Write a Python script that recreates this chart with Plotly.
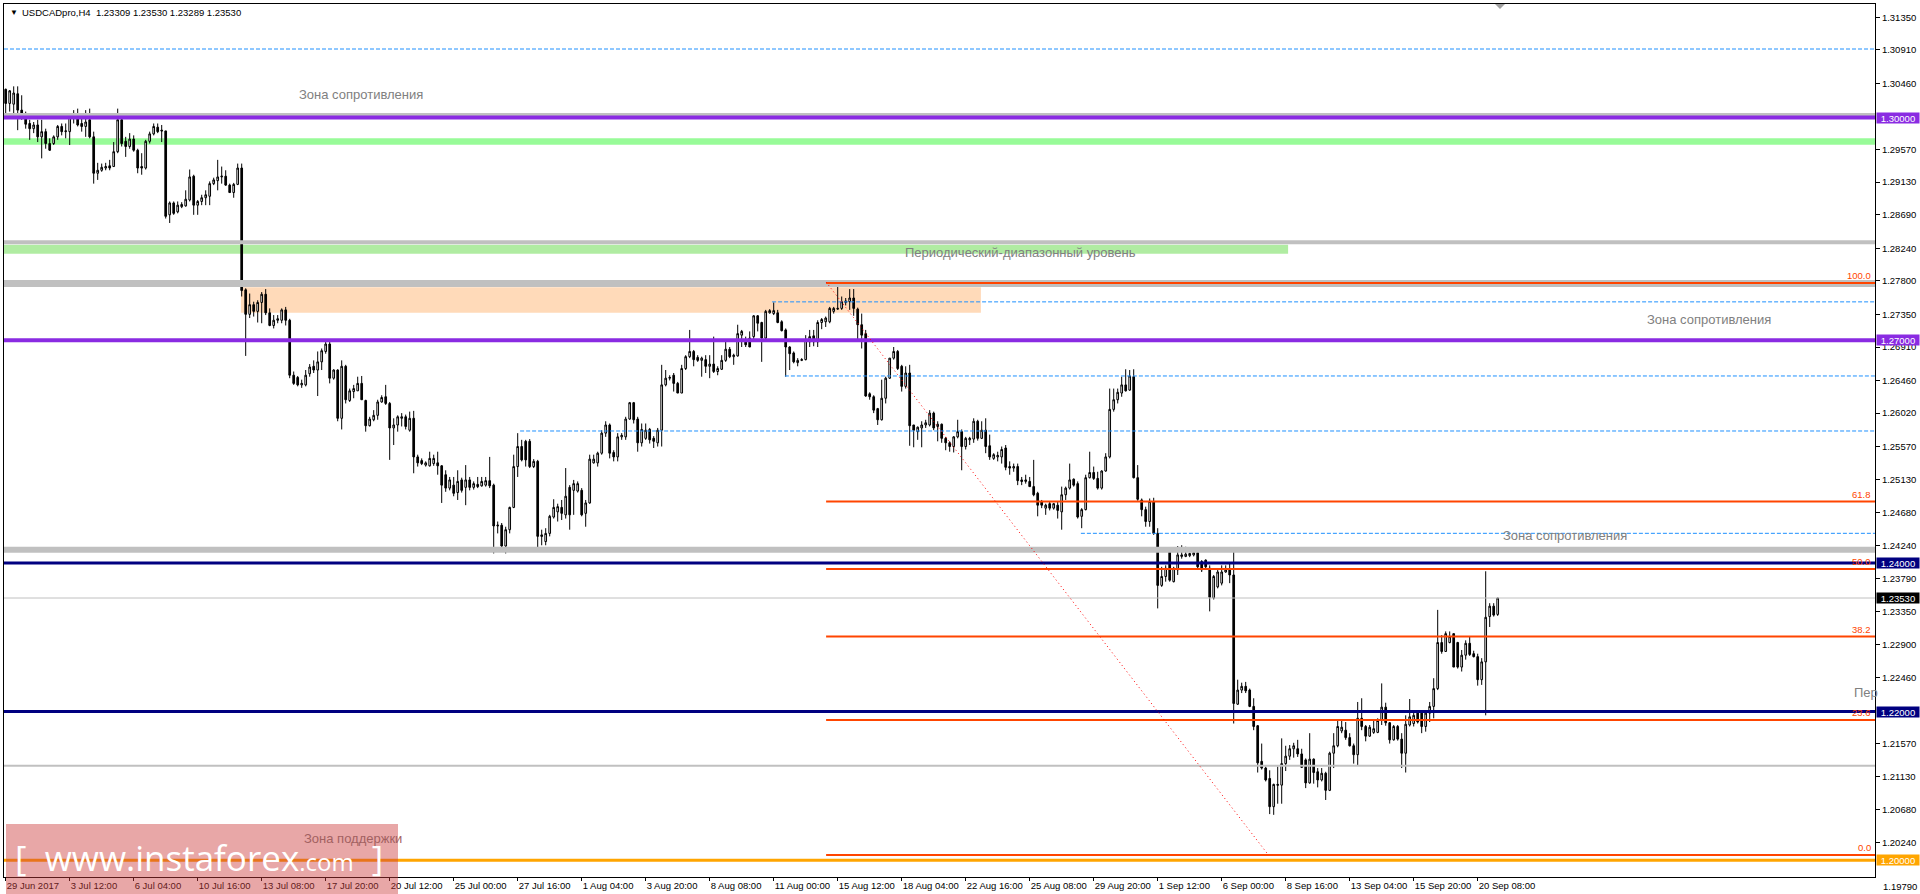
import plotly.graph_objects as go

# ---------------- DATA ----------------
symbol_header = "USDCADpro,H4  1.23309 1.23530 1.23289 1.23530"

opens = [
 1.3038,1.3019,1.3018,1.3032,1.3010,1.3003,1.2992,1.2985,1.2990,1.2974,
 1.2981,1.2965,1.2965,1.2974,1.2988,1.2981,1.2981,1.3001,1.3004,1.2992,
 1.2988,1.2997,1.2974,1.2925,1.2929,1.2932,1.2935,1.2934,1.2954,1.2997,
 1.2968,1.2961,1.2971,1.2956,1.2934,1.2932,1.2968,1.2978,1.2987,1.2983,
 1.2982,1.2869,1.2885,1.2873,1.2880,1.2881,1.2889,1.2921,1.2882,1.2887,
 1.2892,1.2894,1.2911,1.2915,1.2920,1.2921,1.2909,1.2899,1.2910,1.2932,
 1.2768,1.2735,1.2748,1.2739,1.2751,1.2762,1.2737,1.2720,1.2727,1.2727,
 1.2741,1.2727,1.2653,1.2650,1.2640,1.2640,1.2655,1.2665,1.2660,1.2671,
 1.2685,1.2695,1.2649,1.2660,1.2595,1.2665,1.2619,1.2631,1.2632,1.2642,
 1.2619,1.2585,1.2593,1.2599,1.2617,1.2624,1.2615,1.2582,1.2586,1.2595,
 1.2597,1.2579,1.2595,1.2543,1.2538,1.2532,1.2531,1.2534,1.2535,1.2531,
 1.2519,1.2501,1.2505,1.2495,1.2512,1.2502,1.2512,1.2502,1.2506,1.2504,
 1.2505,1.2511,1.2505,1.2450,1.2451,1.2423,1.2445,1.2475,1.2530,1.2557,
 1.2564,1.2564,1.2530,1.2537,1.2438,1.2429,1.2440,1.2462,1.2469,1.2475,
 1.2465,1.2502,1.2498,1.2497,1.2498,1.2467,1.2481,1.2535,1.2535,1.2548,
 1.2575,1.2586,1.2549,1.2543,1.2570,1.2570,1.2594,1.2616,1.2594,1.2562,
 1.2568,1.2580,1.2568,1.2562,1.2579,1.2640,1.2649,1.2653,1.2642,1.2629,
 1.2662,1.2678,1.2685,1.2677,1.2673,1.2674,1.2665,1.2668,1.2658,1.2661,
 1.2673,1.2688,1.2678,1.2679,1.2707,1.2700,1.2703,1.2705,1.2733,1.2724,
 1.2703,1.2737,1.2736,1.2737,1.2725,1.2714,1.2691,1.2683,1.2670,1.2673,
 1.2674,1.2698,1.2706,1.2698,1.2724,1.2725,1.2725,1.2739,1.2742,1.2743,
 1.2751,1.2752,1.2757,1.2742,1.2721,1.2709,1.2628,1.2624,1.2608,1.2593,
 1.2622,1.2649,1.2676,1.2685,1.2665,1.2638,1.2656,1.2586,1.2577,1.2582,
 1.2586,1.2586,1.2602,1.2584,1.2587,1.2568,1.2562,1.2557,1.2570,1.2577,
 1.2557,1.2566,1.2567,1.2591,1.2568,1.2579,1.2558,1.2541,1.2543,1.2543,
 1.2555,1.2530,1.2528,1.2530,1.2512,1.2510,1.2510,1.2503,1.2494,1.2483,
 1.2474,1.2480,1.2474,1.2478,1.2469,1.2492,1.2501,1.2513,1.2507,1.2463,
 1.2472,1.2515,1.2522,1.2514,1.2501,1.2524,1.2543,1.2607,1.2620,1.2629,
 1.2640,1.2633,1.2651,1.2515,1.2485,1.2472,1.2456,1.2483,1.2440,1.2370,
 1.2382,1.2419,1.2375,1.2391,1.2409,1.2409,1.2410,1.2411,1.2414,1.2402,
 1.2404,1.2393,1.2353,1.2368,1.2373,1.2388,1.2391,1.2384,1.2210,1.2229,
 1.2234,1.2229,1.2207,1.2181,1.2133,1.2124,1.2110,1.2072,1.2102,1.2101,
 1.2130,1.2140,1.2150,1.2150,1.2143,1.2135,1.2104,1.2136,1.2119,1.2108,
 1.2117,1.2094,1.2144,1.2154,1.2174,1.2175,1.2165,1.2154,1.2142,1.2191,
 1.2180,1.2167,1.2172,1.2172,1.2188,1.2206,1.2185,1.2162,1.2180,1.2163,
 1.2144,1.2182,1.2184,1.2198,1.2198,1.2180,1.2198,1.2207,1.2231,1.2293,
 1.2281,1.2293,1.2305,1.2293,1.2260,1.2276,1.2292,1.2278,1.2274,1.2243,
 1.2267,1.2328,1.2342,1.23309]

highs = [
 1.3039,1.3037,1.3042,1.3042,1.3030,1.3008,1.2997,1.2994,1.2997,1.2997,
 1.2985,1.2972,1.2976,1.2990,1.2992,1.2992,1.3006,1.3010,1.3012,1.3001,
 1.3010,1.3012,1.2981,1.2939,1.2938,1.2939,1.2943,1.2967,1.3012,1.3001,
 1.2974,1.2979,1.2976,1.2958,1.2952,1.2970,1.2981,1.2992,1.2992,1.2990,
 1.2982,1.2887,1.2887,1.2887,1.2886,1.2902,1.2930,1.2923,1.2889,1.2896,
 1.2902,1.2914,1.2919,1.2943,1.2934,1.2929,1.2911,1.2912,1.2938,1.2938,
 1.2770,1.2763,1.2752,1.2754,1.2765,1.2769,1.2743,1.2734,1.2734,1.2743,
 1.2745,1.2729,1.2658,1.2652,1.2647,1.2660,1.2668,1.2673,1.2685,1.2689,
 1.2698,1.2698,1.2661,1.2661,1.2673,1.2667,1.2635,1.2640,1.2651,1.2652,
 1.2620,1.2597,1.2606,1.2620,1.2626,1.2640,1.2617,1.2595,1.2599,1.2602,
 1.2600,1.2604,1.2605,1.2546,1.2541,1.2537,1.2550,1.2546,1.2550,1.2532,
 1.2525,1.2516,1.2516,1.2525,1.2515,1.2532,1.2516,1.2510,1.2516,1.2516,
 1.2516,1.2543,1.2507,1.2456,1.2454,1.2449,1.2476,1.2546,1.2575,1.2566,
 1.2566,1.2567,1.2540,1.2539,1.2445,1.2447,1.2465,1.2486,1.2480,1.2485,
 1.2528,1.2505,1.2512,1.2510,1.2501,1.2485,1.2546,1.2546,1.2550,1.2579,
 1.2591,1.2588,1.2552,1.2575,1.2575,1.2597,1.2617,1.2617,1.2597,1.2588,
 1.2588,1.2582,1.2571,1.2582,1.2667,1.2660,1.2653,1.2656,1.2644,1.2667,
 1.2680,1.2714,1.2687,1.2680,1.2678,1.2680,1.2680,1.2705,1.2665,1.2680,
 1.2698,1.2691,1.2682,1.2721,1.2714,1.2705,1.2712,1.2734,1.2734,1.2725,
 1.2741,1.2742,1.2751,1.2741,1.2727,1.2716,1.2692,1.2685,1.2676,1.2676,
 1.2707,1.2714,1.2714,1.2727,1.2730,1.2732,1.2745,1.2745,1.2777,1.2759,
 1.2757,1.2769,1.2769,1.2744,1.2736,1.2714,1.2630,1.2626,1.2609,1.2647,
 1.2651,1.2676,1.2691,1.2687,1.2667,1.2665,1.2667,1.2586,1.2584,1.2591,
 1.2593,1.2606,1.2604,1.2591,1.2588,1.2570,1.2564,1.2571,1.2593,1.2580,
 1.2570,1.2570,1.2595,1.2593,1.2591,1.2595,1.2573,1.2548,1.2550,1.2557,
 1.2559,1.2537,1.2534,1.2534,1.2516,1.2519,1.2516,1.2539,1.2496,1.2485,
 1.2480,1.2483,1.2481,1.2483,1.2503,1.2503,1.2534,1.2514,1.2510,1.2474,
 1.2519,1.2550,1.2530,1.2523,1.2525,1.2548,1.2635,1.2635,1.2635,1.2651,
 1.2661,1.2660,1.2661,1.2532,1.2487,1.2476,1.2487,1.2488,1.2447,1.2395,
 1.2397,1.2419,1.2395,1.2423,1.2424,1.2422,1.2414,1.2415,1.2415,1.2404,
 1.2405,1.2397,1.2384,1.2391,1.2397,1.2397,1.2400,1.2415,1.2243,1.2239,
 1.2240,1.2231,1.2218,1.2182,1.2157,1.2126,1.2121,1.2103,1.2126,1.2164,
 1.2154,1.2155,1.2158,1.2162,1.2150,1.2137,1.2171,1.2137,1.2124,1.2124,
 1.2119,1.2146,1.2171,1.2189,1.2189,1.2186,1.2171,1.2157,1.2213,1.2218,
 1.2182,1.2182,1.2189,1.2191,1.2238,1.2212,1.2186,1.2182,1.2182,1.2171,
 1.2195,1.2217,1.2202,1.2202,1.2202,1.2202,1.2213,1.2245,1.2337,1.2303,
 1.2308,1.2308,1.2305,1.2294,1.2283,1.2296,1.2301,1.2282,1.2278,1.2272,
 1.2389,1.2346,1.2346,1.23530]

lows = [
 1.3006,1.3008,1.3006,1.2983,1.2997,1.2985,1.2970,1.2979,1.2967,1.2945,
 1.2958,1.2955,1.2963,1.2970,1.2976,1.2972,1.2963,1.2992,1.2988,1.2981,
 1.2974,1.2972,1.2911,1.2916,1.2927,1.2929,1.2929,1.2934,1.2952,1.2961,
 1.2947,1.2958,1.2954,1.2925,1.2923,1.2930,1.2965,1.2976,1.2979,1.2967,
 1.2864,1.2858,1.2869,1.2871,1.2878,1.2880,1.2887,1.2869,1.2869,1.2882,
 1.2882,1.2882,1.2909,1.2902,1.2911,1.2908,1.2899,1.2892,1.2909,1.2759,
 1.2679,1.2730,1.2732,1.2724,1.2723,1.2734,1.2719,1.2716,1.2723,1.2723,
 1.2720,1.2649,1.2640,1.2638,1.2636,1.2638,1.2651,1.2656,1.2625,1.2660,
 1.2682,1.2642,1.2647,1.2591,1.2580,1.2615,1.2617,1.2622,1.2632,1.2620,
 1.2577,1.2584,1.2591,1.2593,1.2616,1.2613,1.2539,1.2559,1.2577,1.2584,
 1.2580,1.2577,1.2521,1.2530,1.2532,1.2530,1.2530,1.2531,1.2519,1.2481,
 1.2496,1.2498,1.2490,1.2485,1.2495,1.2478,1.2498,1.2499,1.2501,1.2503,
 1.2503,1.2501,1.2413,1.2440,1.2418,1.2413,1.2440,1.2474,1.2516,1.2537,
 1.2530,1.2528,1.2528,1.2418,1.2424,1.2424,1.2436,1.2460,1.2456,1.2458,
 1.2460,1.2445,1.2465,1.2495,1.2463,1.2449,1.2480,1.2534,1.2530,1.2546,
 1.2570,1.2541,1.2537,1.2537,1.2566,1.2566,1.2593,1.2588,1.2550,1.2557,
 1.2566,1.2561,1.2555,1.2557,1.2557,1.2638,1.2646,1.2631,1.2629,1.2629,
 1.2660,1.2676,1.2665,1.2671,1.2651,1.2656,1.2649,1.2656,1.2653,1.2660,
 1.2671,1.2676,1.2667,1.2678,1.2691,1.2691,1.2691,1.2700,1.2712,1.2671,
 1.2700,1.2736,1.2734,1.2723,1.2712,1.2651,1.2660,1.2669,1.2665,1.2672,
 1.2673,1.2691,1.2692,1.2691,1.2715,1.2718,1.2723,1.2736,1.2741,1.2741,
 1.2747,1.2741,1.2733,1.2700,1.2689,1.2624,1.2620,1.2602,1.2586,1.2592,
 1.2615,1.2648,1.2674,1.2660,1.2631,1.2635,1.2558,1.2556,1.2566,1.2556,
 1.2582,1.2584,1.2579,1.2564,1.2562,1.2552,1.2550,1.2549,1.2568,1.2525,
 1.2553,1.2559,1.2562,1.2565,1.2567,1.2548,1.2539,1.2539,1.2537,1.2534,
 1.2525,1.2519,1.2523,1.2505,1.2505,1.2507,1.2503,1.2490,1.2463,1.2474,
 1.2465,1.2471,1.2472,1.2460,1.2445,1.2485,1.2499,1.2503,1.2460,1.2447,
 1.2471,1.2514,1.2512,1.2499,1.2499,1.2523,1.2541,1.2604,1.2615,1.2624,
 1.2631,1.2632,1.2514,1.2484,1.2463,1.2449,1.2449,1.2438,1.2339,1.2368,
 1.2375,1.2375,1.2374,1.2384,1.2406,1.2408,1.2408,1.2409,1.2391,1.2388,
 1.2391,1.2335,1.2351,1.2366,1.2370,1.2387,1.2373,1.2184,1.2209,1.2225,
 1.2225,1.2206,1.2175,1.2118,1.2122,1.2106,1.2062,1.2061,1.2076,1.2076,
 1.2120,1.2135,1.2138,1.2139,1.2124,1.2097,1.2103,1.2103,1.2098,1.2106,
 1.2081,1.2093,1.2124,1.2152,1.2171,1.2162,1.2153,1.2130,1.2128,1.2175,
 1.2160,1.2166,1.2170,1.2171,1.2182,1.2181,1.2157,1.2161,1.2161,1.2124,
 1.2118,1.2180,1.2180,1.2184,1.2171,1.2173,1.2186,1.2191,1.2229,1.2278,
 1.2281,1.2292,1.2260,1.2258,1.2254,1.2270,1.2275,1.2273,1.2235,1.2236,
 1.2195,1.2314,1.2328,1.23289]

closes = [
 1.3019,1.3036,1.3033,1.3010,1.3003,1.2991,1.2985,1.2990,1.2974,1.2981,
 1.2965,1.2956,1.2974,1.2988,1.2981,1.2982,1.3001,1.3004,1.2990,1.2988,
 1.2994,1.2974,1.2925,1.2929,1.2933,1.2934,1.2932,1.2954,1.2997,1.2965,
 1.2961,1.2971,1.2956,1.2932,1.2932,1.2968,1.2978,1.2988,1.2981,1.2982,
 1.2867,1.2885,1.2871,1.2882,1.2883,1.2890,1.2920,1.2882,1.2887,1.2892,
 1.2896,1.2911,1.2916,1.2920,1.2921,1.2909,1.2899,1.2910,1.2932,1.2767,
 1.2735,1.2748,1.2739,1.2751,1.2762,1.2737,1.2720,1.2727,1.2729,1.2741,
 1.2727,1.2653,1.2642,1.2640,1.2642,1.2653,1.2664,1.2660,1.2671,1.2686,
 1.2695,1.2649,1.2660,1.2595,1.2665,1.2620,1.2632,1.2635,1.2642,1.2620,
 1.2585,1.2594,1.2599,1.2617,1.2623,1.2615,1.2582,1.2586,1.2597,1.2597,
 1.2584,1.2595,1.2543,1.2535,1.2534,1.2535,1.2541,1.2541,1.2531,1.2505,
 1.2501,1.2512,1.2494,1.2510,1.2498,1.2512,1.2502,1.2507,1.2503,1.2510,
 1.2511,1.2504,1.2450,1.2451,1.2423,1.2445,1.2475,1.2530,1.2557,1.2539,
 1.2539,1.2530,1.2537,1.2436,1.2436,1.2440,1.2463,1.2475,1.2476,1.2467,
 1.2490,1.2465,1.2507,1.2507,1.2465,1.2481,1.2540,1.2540,1.2548,1.2575,
 1.2586,1.2548,1.2543,1.2570,1.2572,1.2594,1.2616,1.2593,1.2562,1.2580,
 1.2579,1.2566,1.2564,1.2579,1.2640,1.2649,1.2650,1.2642,1.2629,1.2662,
 1.2678,1.2685,1.2674,1.2673,1.2676,1.2665,1.2668,1.2658,1.2662,1.2673,
 1.2688,1.2678,1.2680,1.2709,1.2712,1.2694,1.2691,1.2733,1.2723,1.2703,
 1.2739,1.2740,1.2740,1.2724,1.2713,1.2691,1.2682,1.2671,1.2673,1.2674,
 1.2700,1.2705,1.2698,1.2724,1.2728,1.2730,1.2743,1.2743,1.2743,1.2752,
 1.2753,1.2757,1.2743,1.2721,1.2707,1.2625,1.2624,1.2606,1.2593,1.2622,
 1.2649,1.2676,1.2685,1.2662,1.2638,1.2656,1.2585,1.2579,1.2583,1.2586,
 1.2589,1.2602,1.2582,1.2587,1.2568,1.2562,1.2557,1.2570,1.2577,1.2557,
 1.2568,1.2568,1.2591,1.2568,1.2579,1.2557,1.2543,1.2546,1.2545,1.2553,
 1.2529,1.2528,1.2530,1.2511,1.2510,1.2512,1.2503,1.2492,1.2478,1.2478,
 1.2478,1.2474,1.2480,1.2471,1.2492,1.2501,1.2512,1.2505,1.2462,1.2472,
 1.2515,1.2522,1.2514,1.2501,1.2524,1.2543,1.2607,1.2620,1.2630,1.2640,
 1.2632,1.2652,1.2515,1.2486,1.2472,1.2456,1.2483,1.2440,1.2370,1.2382,
 1.2393,1.2377,1.2393,1.2411,1.2411,1.2412,1.2413,1.2414,1.2395,1.2391,
 1.2395,1.2354,1.2382,1.2388,1.2388,1.2391,1.2384,1.2211,1.2229,1.2234,
 1.2228,1.2207,1.2180,1.2131,1.2124,1.2108,1.2072,1.2102,1.2101,1.2130,
 1.2140,1.2150,1.2154,1.2143,1.2125,1.2104,1.2136,1.2118,1.2108,1.2117,
 1.2094,1.2144,1.2154,1.2180,1.2179,1.2165,1.2154,1.2142,1.2191,1.2180,
 1.2167,1.2179,1.2177,1.2188,1.2206,1.2185,1.2162,1.2180,1.2163,1.2144,
 1.2183,1.2193,1.2195,1.2186,1.2180,1.2198,1.2207,1.2231,1.2293,1.2281,
 1.2305,1.2301,1.2260,1.2260,1.2276,1.2292,1.2277,1.2274,1.2243,1.2267,
 1.2327,1.2342,1.2330,1.23530]

# x-axis date labels, one every 16 bars
date_labels = ["29 Jun 2017", "3 Jul 12:00", "6 Jul 04:00", "10 Jul 16:00", "13 Jul 08:00",
               "17 Jul 20:00", "20 Jul 12:00", "25 Jul 00:00", "27 Jul 16:00", "1 Aug 04:00",
               "3 Aug 20:00", "8 Aug 08:00", "11 Aug 00:00", "15 Aug 12:00", "18 Aug 04:00",
               "22 Aug 16:00", "25 Aug 08:00", "29 Aug 20:00", "1 Sep 12:00", "6 Sep 00:00",
               "8 Sep 16:00", "13 Sep 04:00", "15 Sep 20:00", "20 Sep 08:00"]
label_step = 16

# price-axis tick values
price_ticks = [1.31350, 1.30910, 1.30460, 1.29570, 1.29130, 1.28690, 1.28240, 1.27800,
               1.27350, 1.26910, 1.26460, 1.26020, 1.25570, 1.25130, 1.24680, 1.24240,
               1.23790, 1.23350, 1.22900, 1.22460, 1.21570, 1.21130, 1.20680, 1.20240]

# horizontal key levels (price, colour)
key_levels = [1.30000, 1.27000, 1.24000, 1.22000, 1.20000]
key_colors = ["#8A2BE2", "#8A2BE2", "#000080", "#000080", "#FFA500"]
last_price = 1.23530

# grey support/resistance bands (price, thickness px)
grey_levels = [1.30040, 1.28320, 1.27765, 1.24179, 1.21272]
grey_widths = [3, 4, 7, 6, 2]

# blue dotted levels (price, starting bar)
dash_levels = [1.30923, 1.27518, 1.26520, 1.25779, 1.24401]
dash_starts = [None, 191.6, 194.8, 128.6, 268.8]

# Fibonacci retracement
fib_high = 1.27772
fib_low = 1.20069
fib_ratios = [100.0, 61.8, 50.0, 38.2, 23.6, 0.0]
fib_start_bar = 205.1
trend_start = (205.1, 1.27785)
trend_end = (315.3, 1.20096)

# zones
green_zone_1 = (1.29632, 1.29722)
green_zone_2 = (1.28167, 1.28288, 320.6)   # low, high, end bar
peach_zone = (58.8, 243.8, 1.27372, 1.27714)

zone_texts = [("Зона сопротивления", 88.8, 1.30317),
              ("Зона сопротивления", 425.8, 1.27274),
              ("Зона сопротивления", 389.8, 1.24378),
              ("Периодический-диапазонный уровень", 253.8, 1.28180)]
support_text = ("Зона поддержки", 86.9, 1.20288)

# ---------------- LAYOUT GEOMETRY ----------------
W, H = 1920, 894
PL, PR, PT, PB = 4, 1875, 4, 877
n = len(closes)
x_rng = [-0.425, -0.425 + (PR - PL) / 4.0]
y_rng = [1.19773, 1.31529]
FONT = "Liberation Sans, Arial, sans-serif"


def pxx(px):
    return (px - PL) / (PR - PL)


def pxy(py):
    return (PB - py) / (PB - PT)


fig = go.Figure()
fig.add_trace(go.Candlestick(
    x=list(range(n)), open=opens, high=highs, low=lows, close=closes,
    increasing=dict(line=dict(color="black", width=1), fillcolor="white"),
    decreasing=dict(line=dict(color="black", width=1), fillcolor="black"),
    whiskerwidth=0, hoverinfo="skip", showlegend=False))

shapes = []
# background rectangles
shapes.append(dict(type="rect", xref="paper", yref="y", x0=0, x1=1,
                   y0=green_zone_1[0], y1=green_zone_1[1],
                   fillcolor="#98FB98", line=dict(width=0), layer="below"))
shapes.append(dict(type="rect", xref="x", yref="y", x0=x_rng[0], x1=green_zone_2[2],
                   y0=green_zone_2[0], y1=green_zone_2[1],
                   fillcolor="#B0ECA2", line=dict(width=0), layer="below"))
shapes.append(dict(type="rect", xref="x", yref="y", x0=peach_zone[0], x1=peach_zone[1],
                   y0=peach_zone[2], y1=peach_zone[3],
                   fillcolor="#FFDAB9", line=dict(width=0), layer="below"))

# grey bands
for lv, wd in zip(grey_levels, grey_widths):
    shapes.append(dict(type="line", xref="paper", yref="y", x0=0, x1=1, y0=lv, y1=lv,
                       line=dict(color="#C0C0C0", width=wd), layer="above"))
# blue dashed levels
for lv, st in zip(dash_levels, dash_starts):
    shapes.append(dict(type="line", xref="x", yref="y",
                       x0=x_rng[0] if st is None else st, x1=x_rng[1], y0=lv, y1=lv,
                       line=dict(color="#1E90FF", width=1, dash="4px,2px"), layer="above"))
# current price line
shapes.append(dict(type="line", xref="paper", yref="y", x0=0, x1=1, y0=last_price, y1=last_price,
                   line=dict(color="#C0C0C0", width=1), layer="above"))
# key levels
for lv, col in zip(key_levels, key_colors):
    wd = 4 if col == "#8A2BE2" else 3
    shapes.append(dict(type="line", xref="paper", yref="y", x0=0, x1=1, y0=lv, y1=lv,
                       line=dict(color=col, width=wd), layer="above"))
# fibonacci lines
fib_prices = [fib_low + r / 100.0 * (fib_high - fib_low) for r in fib_ratios]
for fp in fib_prices:
    shapes.append(dict(type="line", xref="x", yref="y", x0=fib_start_bar, x1=x_rng[1],
                       y0=fp, y1=fp, line=dict(color="#FF4500", width=2), layer="above"))
# trend line
shapes.append(dict(type="line", xref="x", yref="y", x0=trend_start[0], y0=trend_start[1],
                   x1=trend_end[0], y1=trend_end[1],
                   line=dict(color="#FF0000", width=1, dash="1px,3px"), layer="above"))
# chart-shift marker
shapes.append(dict(type="path", xref="paper", yref="paper",
                   path="M %f %f L %f %f L %f %f Z" % (pxx(1495), pxy(4), pxx(1505), pxy(4), pxx(1500), pxy(9)),
                   fillcolor="#A0A0A0", line=dict(width=0), layer="above"))
# watermark box
shapes.append(dict(type="rect", xref="paper", yref="paper",
                   x0=pxx(6), x1=pxx(398), y0=pxy(894), y1=pxy(824),
                   fillcolor="rgba(205,60,60,0.45)", line=dict(width=0), layer="above"))

ann = []
# header
ann.append(dict(text="▼", xref="paper", yref="paper", x=pxx(8), y=pxy(13), xanchor="left",
                yanchor="middle", showarrow=False, font=dict(family=FONT, size=8, color="black")))
ann.append(dict(text=symbol_header, xref="paper", yref="paper", x=pxx(20), y=pxy(13),
                xanchor="left", yanchor="middle", showarrow=False,
                font=dict(family=FONT, size=9.5, color="black")))
# zone texts
for t, xb, yp in zone_texts:
    ann.append(dict(text=t, xref="x", yref="y", x=xb, y=yp, xanchor="center", yanchor="middle",
                    showarrow=False, font=dict(family=FONT, size=13, color="#808080")))
ann.append(dict(text="Пер", xref="paper", yref="y", x=pxx(1852), y=1.22254, xanchor="left",
                yanchor="middle", showarrow=False, font=dict(family=FONT, size=13, color="#808080")))
ann.append(dict(text=support_text[0], xref="x", yref="y", x=support_text[1], y=support_text[2],
                xanchor="center", yanchor="middle", showarrow=False,
                font=dict(family=FONT, size=13, color="#A26161")))
# fib labels
for r, fp in zip(fib_ratios, fib_prices):
    ann.append(dict(text="%.1f" % r, xref="paper", yref="y", x=pxx(1873), y=fp, xanchor="right",
                    yanchor="bottom", yshift=0, showarrow=False,
                    font=dict(family=FONT, size=9.5, color="#FF4500")))
# price boxes on axis
for lv, col in list(zip(key_levels, key_colors)) + [(last_price, "#000000")]:
    ann.append(dict(text="%.5f" % lv, xref="paper", yref="y", x=pxx(1876), y=lv, xanchor="left",
                    yanchor="middle", showarrow=False, bgcolor=col, borderpad=0, width=42, height=10,
                    align="center", font=dict(family=FONT, size=9.5, color="white")))
# bottom axis extra label
ann.append(dict(text="1.19790", xref="paper", yref="paper", x=pxx(1881), y=pxy(886),
                xanchor="left", yanchor="middle", showarrow=False,
                font=dict(family=FONT, size=9.5, color="black")))
# watermark text
ann.append(dict(text="[  www.instaforex<span style='font-size:24px'>.com</span>  ]",
                xref="paper", yref="paper", x=pxx(199), y=pxy(857), xanchor="center",
                yanchor="middle", showarrow=False,
                font=dict(family="Open Sans, Liberation Sans, sans-serif", size=35, color="white")))

fig.update_layout(
    width=W, height=H, template="none",
    margin=dict(l=PL, r=W - PR, t=PT, b=H - PB, autoexpand=False),
    paper_bgcolor="white", plot_bgcolor="white",
    shapes=shapes, annotations=ann, showlegend=False, boxgap=0.4,
    xaxis=dict(range=x_rng, rangeslider=dict(visible=False), showgrid=False, zeroline=False,
               tickmode="array", tickvals=[i * label_step for i in range(len(date_labels))],
               ticktext=date_labels, ticks="outside", ticklen=3, tickcolor="black",
               tickangle=0, ticklabelposition="outside right", showline=True, linecolor="black",
               linewidth=1, mirror=True, automargin=False,
               tickfont=dict(family=FONT, size=9.5, color="black")),
    yaxis=dict(range=y_rng, side="right", showgrid=False, zeroline=False,
               tickmode="array", tickvals=price_ticks, ticktext=["%.5f" % v for v in price_ticks],
               ticks="outside", ticklen=4, tickcolor="black", showline=True,
               linecolor="black", linewidth=1, mirror=True, automargin=False,
               tickfont=dict(family=FONT, size=9.5, color="black")),
)

fig.write_html("out.html", config={"displayModeBar": False},
               post_script="document.body.style.margin='0';")
